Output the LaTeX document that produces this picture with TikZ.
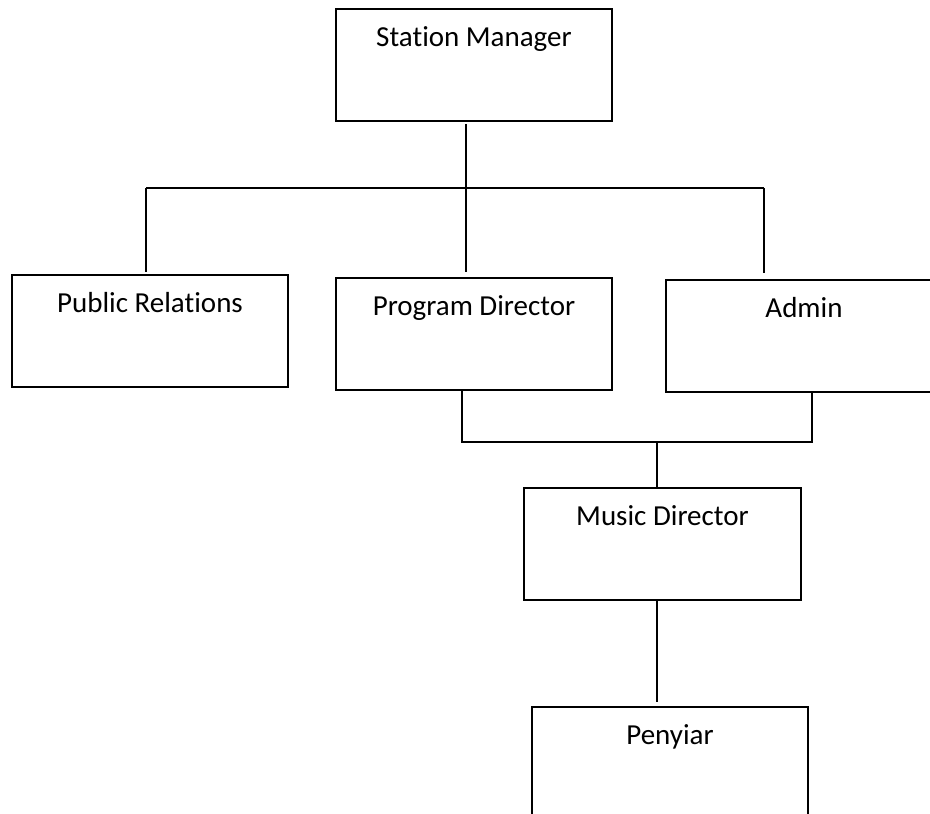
\documentclass[tikz,border=0pt]{standalone}
\usepackage{fontspec}
\setmainfont{Carlito}[Ligatures=NoCommon]
\usetikzlibrary{calc}
\begin{document}
\begin{tikzpicture}[x=1pt,y=1pt,
  orgbox/.style={draw=black, line width=2pt, minimum width=276pt, minimum height=112pt, inner sep=0pt,
    label={[lbl]north:#1}},
  lbl/.style={anchor=base, yshift=-38.5pt, font=\fontsize{29}{35}\selectfont, inner sep=0pt},
  conn/.style={draw=black, line width=2pt}]
\useasboundingbox (0,0) rectangle (930,814);
\clip (0,0) rectangle (930,814);
\fill[white] (0,0) rectangle (930,814);
% boxes (y measured upward: Y = 814 - y)
\node[orgbox={Station Manager}] (sm) at (474,749) {};
\node[orgbox={Public Relations}] (pr) at (150,483) {};
\node[orgbox={Program Director}] (pd) at (474,480) {};
\node[orgbox={Admin}] (ad) at (804,478) {};
\node[orgbox={Music Director}, minimum width=277pt] (md) at (662.5,270) {};
\node[orgbox={Penyiar}] (py) at (670,51) {};
% junction coordinates
\coordinate (smOut) at ($(sm.south)+(-8,-2)$);
\coordinate (busL) at (146,626);
\coordinate (busR) at (764,626);
\coordinate (busM) at (466,626);
\coordinate (prIn) at ($(pr.north)+(-4,2)$);
\coordinate (pdIn) at ($(pd.north)+(-8,5)$);
\coordinate (adIn) at ($(ad.north)+(-40,6)$);
\coordinate (pdOut) at ($(pd.south)+(-12,0)$);
\coordinate (adOut) at ($(ad.south)+(8,0)$);
\coordinate (bus2L) at (462,372);
\coordinate (bus2R) at (812,372);
\coordinate (bus2M) at (657,372);
\coordinate (mdIn) at (657,326);
\coordinate (mdOut) at (657,213);
\coordinate (pyIn) at (657,112);
% connectors
\draw[conn] (smOut) -- (pdIn);
\draw[conn] (busL) -- (busR);
\draw[conn] (busL) -- (prIn);
\draw[conn] (busR) -- (adIn);
\draw[conn] (pdOut) -- (bus2L) -- (bus2R) -- (adOut);
\draw[conn] (bus2M) -- (mdIn);
\draw[conn] (mdOut) -- (pyIn);
\end{tikzpicture}
\end{document}
